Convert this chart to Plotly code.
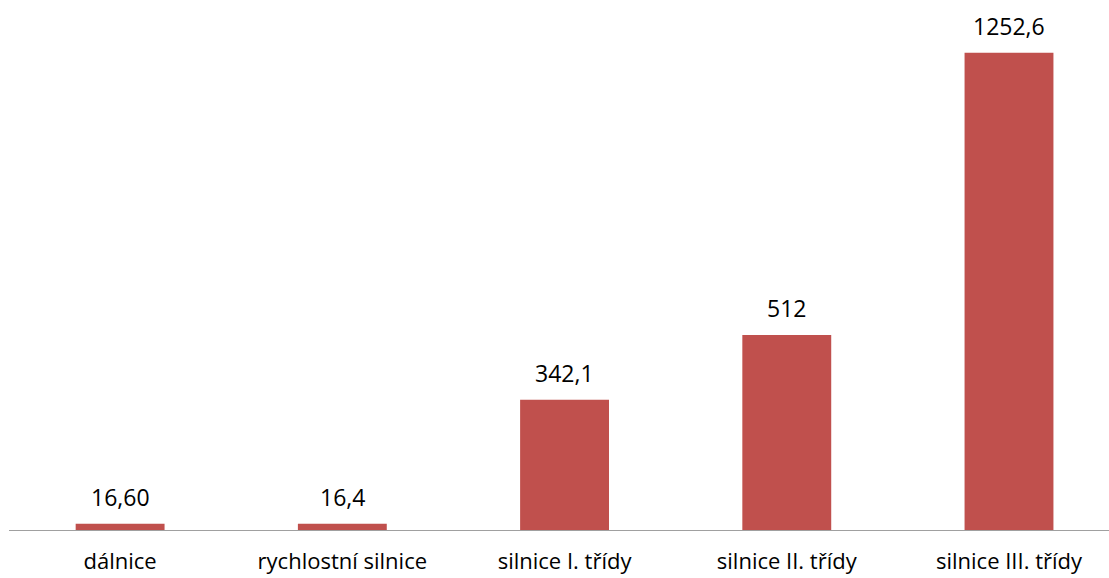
import plotly.graph_objects as go

categories = ["dálnice", "rychlostní silnice", "silnice I. třídy", "silnice II. třídy", "silnice III. třídy"]
values = [16.60, 16.4, 342.1, 512, 1252.6]
value_labels = ["16,60", "16,4", "342,1", "512", "1252,6"]

FONT = "'Open Sans', Lato, sans-serif"
FONT_SIZE = 23
TICK_SIZE = 22
BAR_COLOR = "#C0504D"

positions = list(range(len(categories)))

fig = go.Figure(
    go.Bar(
        x=positions,
        y=values,
        width=0.4,
        marker=dict(color=BAR_COLOR, line=dict(width=0)),
        hoverinfo="skip",
    )
)

# value labels above each bar
for xpos, val, lab in zip(positions, values, value_labels):
    fig.add_annotation(
        x=xpos, y=val, text=lab, showarrow=False,
        yanchor="middle", yshift=27,
        font=dict(family=FONT, size=FONT_SIZE, color="#000000"),
    )

fig.update_layout(
    template="none",
    width=1109,
    height=578,
    margin=dict(l=9, r=0, t=0, b=48, pad=0),
    paper_bgcolor="white",
    plot_bgcolor="white",
    showlegend=False,
    font=dict(family=FONT, size=FONT_SIZE, color="#000000"),
)
fig.update_xaxes(
    range=[-0.5, 4.45],
    tickvals=positions,
    ticktext=categories,
    showline=True,
    linecolor="#A0A0A0",
    linewidth=1,
    showgrid=False,
    zeroline=False,
    ticks="",
    ticklabelstandoff=12,
    automargin=False,
    tickfont=dict(family=FONT, size=TICK_SIZE, color="#000000"),
    fixedrange=True,
)
fig.update_yaxes(
    range=[0, 1391],
    visible=False,
    showgrid=False,
    zeroline=False,
    automargin=False,
    fixedrange=True,
)

fig.write_html("out.html")
